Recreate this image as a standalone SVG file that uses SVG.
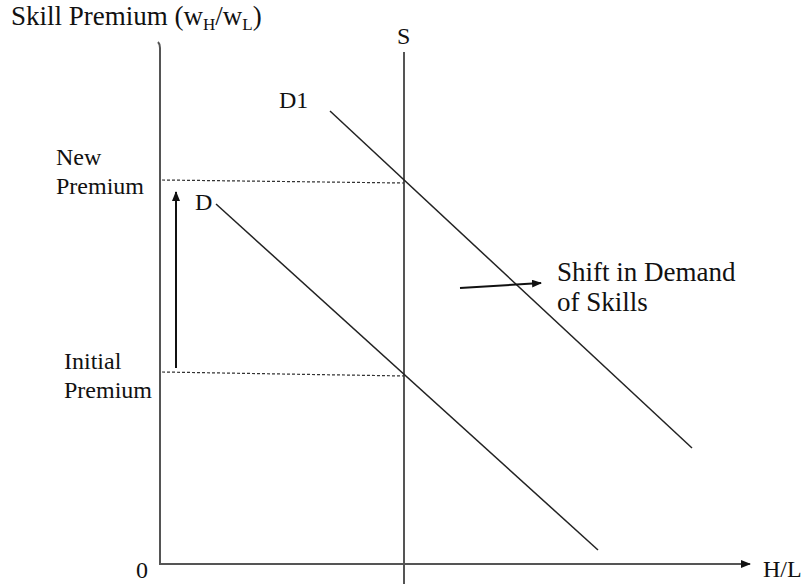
<svg xmlns="http://www.w3.org/2000/svg" width="809" height="584" viewBox="0 0 809 584">
<defs>
<style>
text{font-family:"Liberation Serif","Times New Roman",serif;font-size:24px;fill:#111}
.big{font-size:27px}
.sub{font-size:17px}
.ln{stroke:#222;stroke-width:1.5;fill:none}
.ax{stroke:#555;stroke-width:2;fill:none}
.dash{stroke:#333;stroke-width:1.2;stroke-dasharray:3,2;fill:none}
.arr{stroke:#111;stroke-width:2;fill:none}
</style>
<marker id="ah" markerWidth="10" markerHeight="8" refX="9" refY="4" orient="auto" markerUnits="userSpaceOnUse">
<path d="M0,0 L10,4 L0,8 Z" fill="#111"/>
</marker>
</defs>
<rect width="809" height="584" fill="#fff"/>
<g id="axes">
<path class="ax" d="M158,42 Q160,44 160,48 L160,564 L750,564" marker-end="url(#ah)"/>
</g>
<g id="connectors">
<line class="ax" x1="404" y1="52" x2="404" y2="584"/>
<line class="ln" x1="330" y1="111" x2="692" y2="448"/>
<line class="ln" x1="216" y1="204" x2="598" y2="550"/>
<line class="dash" x1="162" y1="180" x2="404" y2="183"/>
<line class="dash" x1="162" y1="372" x2="404" y2="376"/>
<line class="arr" x1="176" y1="368" x2="176" y2="192" marker-end="url(#ah)"/>
<line class="arr" x1="460" y1="288" x2="541" y2="283" marker-end="url(#ah)"/>
</g>
<g id="labels">
<text class="big" x="11" y="25">Skill Premium (w<tspan class="sub" dy="5">H</tspan><tspan dy="-5">/w</tspan><tspan class="sub" dy="5">L</tspan><tspan dy="-5">)</tspan></text>
<text x="397" y="44">S</text>
<text x="279" y="108" font-size="26">D1</text>
<text x="195" y="210">D</text>
<text x="56" y="165">New</text>
<text x="56" y="194">Premium</text>
<text x="64" y="369">Initial</text>
<text x="64" y="398">Premium</text>
<text x="136" y="578">0</text>
<text x="763" y="577">H/L</text>
<text class="big" x="557" y="281">Shift in Demand</text>
<text class="big" x="557" y="311">of Skills</text>
</g>
</svg>
